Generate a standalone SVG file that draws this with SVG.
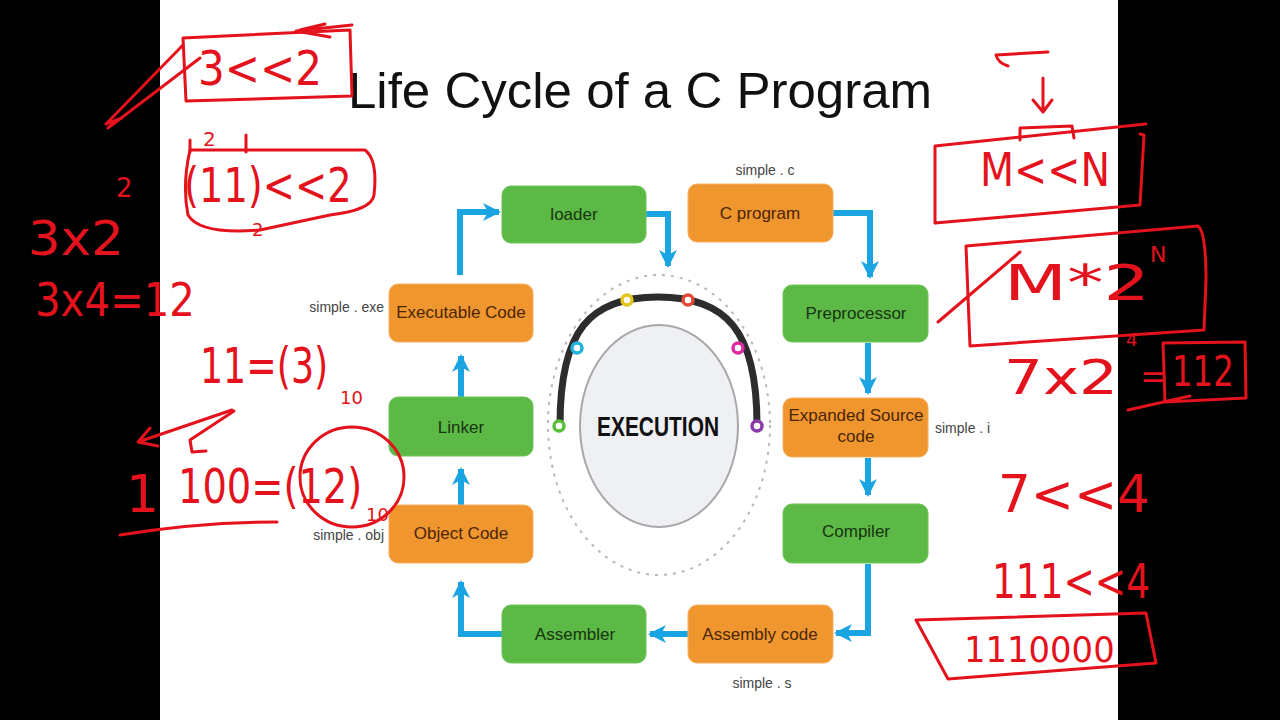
<svg xmlns="http://www.w3.org/2000/svg" width="1280" height="720" viewBox="0 0 1280 720">
<defs>
<style>
.bg{fill:#000}
.slide{fill:#fff}
.title{font-family:"Liberation Sans",Arial,sans-serif;font-size:50px;fill:#111}
.g rect{fill:#5cb946;stroke:#6cc456;stroke-width:1}
.o rect{fill:#f0962e;stroke:#f6b060;stroke-width:1}
.g text{font-family:"Liberation Sans",Arial,sans-serif;font-size:17px;fill:#173410;text-anchor:middle}
.o text{font-family:"Liberation Sans",Arial,sans-serif;font-size:17px;fill:#4a2506;text-anchor:middle}
.fn{font-family:"Liberation Sans",Arial,sans-serif;font-size:14px;fill:#444}
.conn path{fill:none;stroke:#1ba4e2;stroke-width:6;stroke-linejoin:miter}
.hw{font-family:"DejaVu Sans",sans-serif;fill:#e3121c}
.hs{fill:none;stroke:#e3121c;stroke-width:3;stroke-linecap:round;stroke-linejoin:round}
.dot{fill:#fff;stroke-width:3.5}
</style>
<marker id="ah" markerUnits="userSpaceOnUse" markerWidth="20" markerHeight="20" viewBox="0 0 20 20" refX="16" refY="10" orient="auto">
<path d="M0,1 L18,10 L0,19 L5,10 Z" fill="#1ba4e2"/>
</marker>
</defs>
<rect class="bg" x="0" y="0" width="1280" height="720"/>
<rect class="slide" x="160" y="0" width="958" height="720"/>

<text class="title" x="640" y="108" text-anchor="middle" textLength="584" lengthAdjust="spacingAndGlyphs">Life Cycle of a C Program</text>

<!-- connectors -->
<g id="connectors" class="conn">
<path d="M460,275 V212 H499" marker-end="url(#ah)"/>
<path d="M646,214 H668 V266" marker-end="url(#ah)"/>
<path d="M833,213 H870 V277" marker-end="url(#ah)"/>
<path d="M868,343 V393" marker-end="url(#ah)"/>
<path d="M868,458 V495" marker-end="url(#ah)"/>
<path d="M868,564 V633 H836" marker-end="url(#ah)"/>
<path d="M688,634 H650" marker-end="url(#ah)"/>
<path d="M502,634 H461 V582" marker-end="url(#ah)"/>
<path d="M461,505 V469" marker-end="url(#ah)"/>
<path d="M461,397 V356" marker-end="url(#ah)"/>
</g>

<!-- execution centre -->
<g id="execution">
<ellipse cx="659" cy="425" rx="111" ry="150" fill="none" stroke="#b8b8b8" stroke-width="2" stroke-dasharray="3,6"/>
<ellipse cx="659" cy="426" rx="79" ry="101" fill="#eef0f4" stroke="#a8a8a8" stroke-width="2"/>
<path d="M560,425 C560,330 590,297 658,297 C726,297 757,330 757,425" fill="none" stroke="#2d2d2d" stroke-width="7"/>
<circle class="dot" cx="559" cy="426" r="5" stroke="#5bbf3c"/>
<circle class="dot" cx="577" cy="348" r="5" stroke="#21b2dc"/>
<circle class="dot" cx="627" cy="300" r="5" stroke="#e2c41c"/>
<circle class="dot" cx="688" cy="300" r="5" stroke="#e44a33"/>
<circle class="dot" cx="738" cy="348" r="5" stroke="#dc2aa0"/>
<circle class="dot" cx="757" cy="426" r="5" stroke="#8a3aa6"/>
<text x="658" y="436" font-family="Liberation Sans,Arial,sans-serif" font-weight="bold" font-size="28" fill="#111" text-anchor="middle" textLength="122" lengthAdjust="spacingAndGlyphs">EXECUTION</text>
</g>

<g id="loader" class="g"><rect x="502" y="186" width="144" height="57" rx="9"/><text x="574" y="220">loader</text></g>
<g id="cprogram" class="o"><rect x="688" y="184" width="145" height="58" rx="9"/><text x="760" y="219">C program</text><text class="fn" x="765" y="175" text-anchor="middle" style="fill:#444;font-size:14px">simple . c</text></g>
<g id="preprocessor" class="g"><rect x="783" y="285" width="145" height="57" rx="9"/><text x="856" y="319">Preprocessor</text></g>
<g id="expanded" class="o"><rect x="783" y="398" width="145" height="59" rx="9"/><text x="856" y="421">Expanded Source</text><text x="856" y="442">code</text><text class="fn" x="935" y="433" style="fill:#444;font-size:14px;text-anchor:start">simple . i</text></g>
<g id="compiler" class="g"><rect x="783" y="504" width="145" height="59" rx="9"/><text x="856" y="537">Compiler</text></g>
<g id="assemblycode" class="o"><rect x="688" y="605" width="145" height="58" rx="9"/><text x="760" y="640">Assembly code</text><text class="fn" x="762" y="688" style="fill:#444;font-size:14px">simple . s</text></g>
<g id="assembler" class="g"><rect x="502" y="605" width="144" height="58" rx="9"/><text x="575" y="640">Assembler</text></g>
<g id="objectcode" class="o"><rect x="389" y="505" width="144" height="58" rx="9"/><text x="461" y="539">Object Code</text><text class="fn" x="384" y="540" style="fill:#444;font-size:14px;text-anchor:end">simple . obj</text></g>
<g id="linker" class="g"><rect x="389" y="397" width="144" height="59" rx="9"/><text x="461" y="433">Linker</text></g>
<g id="executable" class="o"><rect x="389" y="284" width="144" height="58" rx="9"/><text x="461" y="318">Executable Code</text><text class="fn" x="384" y="312" style="fill:#444;font-size:14px;text-anchor:end">simple . exe</text></g>

<!-- handwritten annotations -->
<g id="annotations">
<path class="hs" d="M183,38 L350,30 L352,96 L186,101 Z"/>
<path class="hs" d="M352,25 L296,31 M296,31 L330,37 M300,30 L325,24"/>
<path class="hs" d="M200,58 L108,128 M183,45 L106,124 M106,124 L122,118"/>
<text class="hw" transform="translate(198,85) scale(0.877,1)" font-size="48">3&lt;&lt;2</text>

<path class="hs" d="M190,150 L365,150 Q378,160 374,195 Q372,210 330,215 L260,230 Q200,235 188,215 Q182,185 190,150 Z"/>
<path class="hs" d="M190,140 L190,152 M246,135 L246,152"/>
<text class="hw" x="203" y="146" font-size="20">2</text>
<text class="hw" transform="translate(184,202) scale(0.8,1)" font-size="48">(11)&lt;&lt;2</text>
<text class="hw" x="252" y="236" font-size="18">2</text>

<text class="hw" x="28" y="255" font-size="48" textLength="96" lengthAdjust="spacingAndGlyphs">3x2</text>
<text class="hw" x="116" y="197" font-size="26">2</text>
<text class="hw" transform="translate(35,316) scale(0.875,1)" font-size="46">3x4=12</text>

<text class="hw" transform="translate(200,383) scale(0.727,1)" font-size="50">11=(3)</text>
<text class="hw" x="340" y="404" font-size="18">10</text>
<path class="hs" d="M232,410 L138,442 M138,442 L150,428 M138,442 L158,446"/>
<path class="hs" d="M234,411 L190,440 M190,440 L192,452 L206,451"/>
<text class="hw" x="126" y="512" font-size="52">1</text>
<text class="hw" transform="translate(178,503) scale(0.8,1)" font-size="48">100=(12)</text>
<text class="hw" x="366" y="521" font-size="18">10</text>
<ellipse class="hs" cx="352" cy="477" rx="52" ry="50"/>
<path class="hs" d="M120,535 Q200,522 277,522"/>

<path class="hs" d="M1048,52 L996,55 M996,55 Q998,63 1008,66"/>
<path class="hs" d="M1043,78 L1043,112 M1033,100 L1043,112 L1052,100"/>
<path class="hs" d="M1020,140 L1020,128 L1072,126 L1074,138"/>
<path class="hs" d="M935,146 L1146,124 M1140,134 L1144,135 L1140,205 L935,223 L935,146"/>
<text class="hw" transform="translate(980,186) scale(0.86,1)" font-size="46">M&lt;&lt;N</text>

<path class="hs" d="M966,246 L1198,226 Q1206,232 1206,280 L1204,330 L970,346 L966,246 Z"/>
<path class="hs" d="M938,322 L1020,252"/>
<text class="hw" x="1004" y="300" font-size="50" textLength="146" lengthAdjust="spacingAndGlyphs">M*2</text>
<text class="hw" x="1150" y="262" font-size="22">N</text>
<text class="hw" x="1004" y="394" font-size="48" textLength="114" lengthAdjust="spacingAndGlyphs">7x2</text>
<text class="hw" x="1126" y="346" font-size="18">4</text>
<text class="hw" x="1140" y="388" font-size="34">=</text>
<path class="hs" d="M1163,343 L1245,342 L1246,398 L1165,402 Z"/>
<text class="hw" transform="translate(1172,386) scale(0.77,1)" font-size="42">112</text>
<path class="hs" d="M1128,410 L1190,396"/>

<text class="hw" x="998" y="512" font-size="52" textLength="152" lengthAdjust="spacingAndGlyphs">7&lt;&lt;4</text>
<text class="hw" transform="translate(992,598) scale(0.78,1)" font-size="48">111&lt;&lt;4</text>
<path class="hs" d="M916,620 L1146,613 L1156,663 L948,679 L916,620 Z"/>
<text class="hw" transform="translate(964,662) scale(0.94,1)" font-size="36">1110000</text>
</g>
</svg>
